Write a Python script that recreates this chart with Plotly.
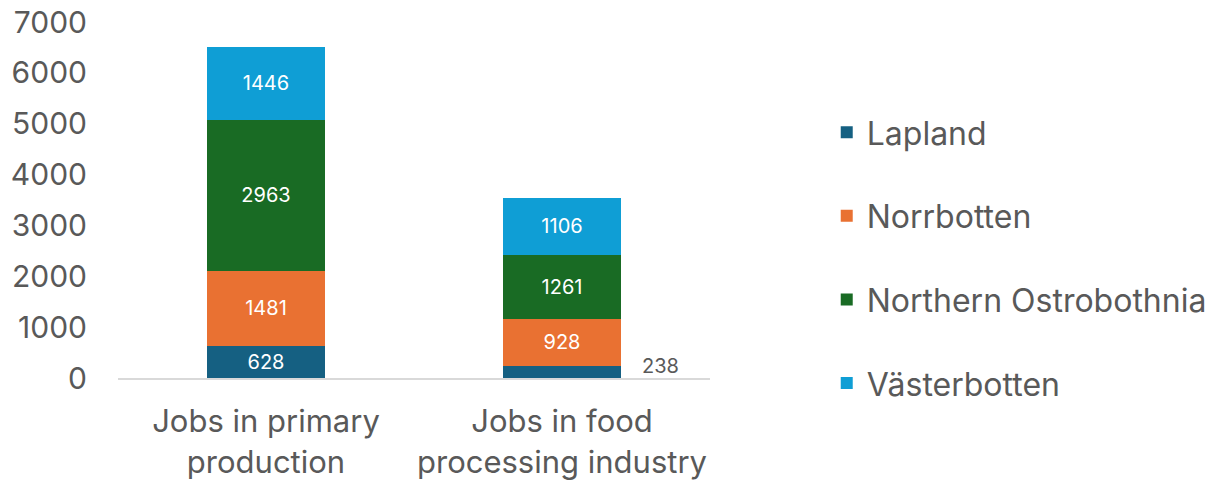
import plotly.graph_objects as go

categories = ["Jobs in primary<br>production", "Jobs in food<br>processing industry"]
regions = ["Lapland", "Norrbotten", "Northern Ostrobothnia", "Västerbotten"]
lapland = [628, 238]
norrbotten = [1481, 928]
northern_ostrobothnia = [2963, 1261]
vasterbotten = [1446, 1106]
y_ticks = [0, 1000, 2000, 3000, 4000, 5000, 6000, 7000]

colors = ["#156082", "#E97132", "#196B24", "#0F9ED5"]
series = [lapland, norrbotten, northern_ostrobothnia, vasterbotten]
FONT = "Inter"
GRAY = "#595959"

fig = go.Figure()
for i, (name, vals, col) in enumerate(zip(regions, series, colors)):
    texts = [str(v) if v >= 400 else "" for v in vals]
    fig.add_trace(go.Bar(
        x=categories, y=vals, name=name, marker=dict(color=col, line=dict(width=0)),
        text=texts, textposition="inside", insidetextanchor="middle",
        textfont=dict(color="white", size=20, family=FONT),
        legendgroup=name, hoverinfo="skip",
    ))

# small value label placed outside the bar
for ci, v in enumerate(lapland):
    if v < 400:
        fig.add_annotation(x=categories[ci], y=v, text=str(v), showarrow=False,
                           xshift=98, font=dict(size=20, color=GRAY, family=FONT))

fig.update_layout(
    barmode="stack", bargap=0.6,
    width=1214, height=483,
    margin=dict(l=118, r=504, t=22, b=105),
    plot_bgcolor="white", paper_bgcolor="white",
    font=dict(family=FONT, color=GRAY),
    showlegend=True,
    uniformtext=dict(minsize=8, mode="show"),
    legend=dict(
        xref="container", yref="container", x=0.681, y=0.466,
        xanchor="left", yanchor="middle",
        font=dict(size=32, color=GRAY, family=FONT),
        traceorder="grouped", tracegroupgap=39,
        itemwidth=30, maxheight=483,
    ),
)
fig.update_yaxes(range=[0, 7000], tickvals=y_ticks, showgrid=False, zeroline=False,
                 showline=False, tickfont=dict(size=30, color=GRAY, family=FONT),
                 ticklabelstandoff=30, automargin=False)
fig.update_xaxes(showline=True, linecolor="#D9D9D9", linewidth=2, showgrid=False,
                 tickfont=dict(size=31, color=GRAY, family=FONT),
                 ticklabelstandoff=15, automargin=False)

fig.write_html("out.html")
